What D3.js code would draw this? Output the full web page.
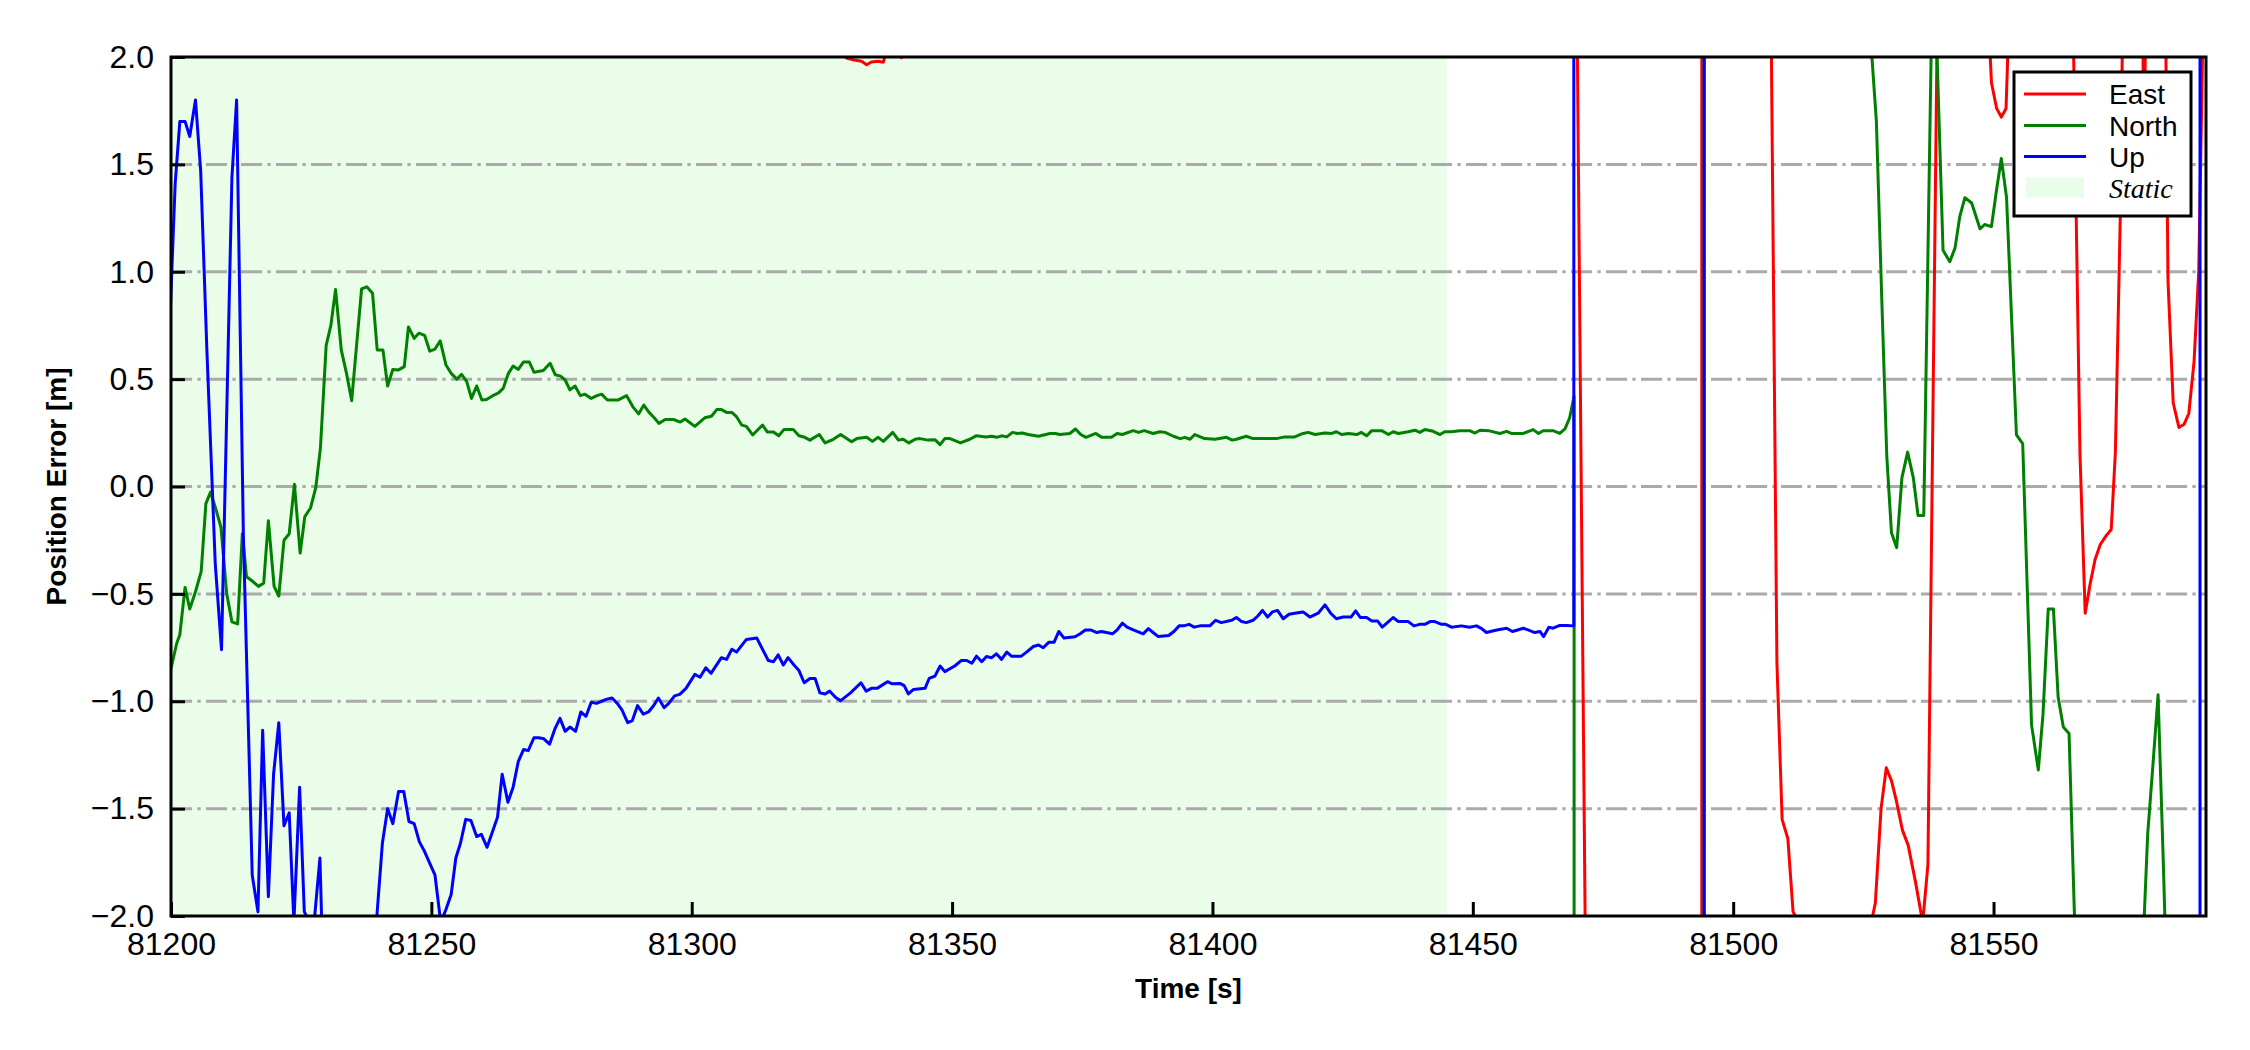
<!DOCTYPE html>
<html><head><meta charset="utf-8">
<script src="https://cdn.jsdelivr.net/npm/d3@7"></script>
<style>body{margin:0;background:#fff} svg{display:block}</style>
</head><body>
<svg id="chart" width="2250" height="1050"></svg>
<script>
// ---------------- data ----------------
const xTicks = [81200, 81250, 81300, 81350, 81400, 81450, 81500, 81550];
const yTicks = [-2, -1.5, -1, -0.5, 0, 0.5, 1, 1.5, 2];
const gridValues = [-1.5, -1, -0.5, 0, 0.5, 1, 1.5];
const xDomain = [81200, 81590.8];
const yDomain = [-2, 2];
const staticSpan = [81200, 81445];
const legendLabels = ["East", "North", "Up", "Static"];

// East error [time, value] (values beyond ±2 are off-chart)
const eastPts = [
[81199.7,3.4],[81230,2.9],[81270,2.6],[81300,2.35],[81320,2.15],[81328.7,2.06],
[81329.7,1.995],[81331.0,1.987],[81332.6,1.98],[81333.6,1.964],[81334.5,1.977],[81335.8,1.98],
[81336.8,1.976],[81337.6,2.05],[81339.3,2.04],[81340.3,1.997],[81341.3,2.04],[81360,2.2],
[81400,2.5],[81440,2.9],[81469.5,3.6],[81471.6,-2.1],[81472.6,-40],[81493.9,-300],
[81494.05,300],[81506.3,4.8],[81508.4,-0.82],[81509.4,-1.55],[81510.5,-1.64],[81511.5,-1.98],
[81512.6,-2.03],[81513.6,-3.0],[81520,-4.5],[81525.3,-3.6],[81525.9,-2.1],[81527.3,-1.94],
[81528.4,-1.50],[81529.4,-1.31],[81530.4,-1.37],[81531.4,-1.47],[81532.5,-1.60],[81533.6,-1.67],
[81535.0,-1.84],[81536.4,-2.03],[81537.4,-1.76],[81539.3,2.4],[81544,4.2],[81548.6,2.4],
[81549.6,1.88],[81550.6,1.76],[81551.5,1.72],[81552.4,1.76],[81553.4,2.5],[81559,4.5],
[81564.6,3.2],[81566.6,0.15],[81567.6,-0.59],[81568.5,-0.46],[81569.5,-0.34],[81570.5,-0.27],
[81571.6,-0.23],[81572.6,-0.20],[81573.4,0.16],[81574.4,1.33],[81575.4,3.5],[81577.9,4.5],
[81578.9,1.4],[81579.9,4.0],[81582.5,3.6],[81583.5,0.96],[81584.5,0.39],[81585.6,0.275],
[81586.6,0.29],[81587.5,0.34],[81588.5,0.58],[81589.4,1.0],[81590.5,2.5],[81591.5,4.0]
];

// North error
const northPts = [
[81199.7,-0.88],[81201.1,-0.73],[81201.7,-0.69],[81202.7,-0.47],[81203.6,-0.57],[81204.7,-0.49],
[81205.8,-0.395],[81206.7,-0.08],[81207.6,-0.026],[81208.5,-0.096],[81209.6,-0.19],[81210.7,-0.50],
[81211.7,-0.63],[81212.8,-0.64],[81213.7,-0.22],[81214.5,-0.42],[81215.6,-0.44],[81216.8,-0.465],
[81217.8,-0.45],[81218.7,-0.16],[81219.8,-0.465],[81220.7,-0.51],[81221.7,-0.25],[81222.7,-0.22],
[81223.7,0.01],[81224.8,-0.31],[81225.7,-0.14],[81226.8,-0.10],[81227.8,-0.005],[81228.7,0.18],
[81229.8,0.657],[81230.7,0.75],[81231.6,0.917],[81232.7,0.636],[81233.7,0.527],[81234.7,0.40],
[81236.6,0.92],[81237.6,0.93],[81238.7,0.90],[81239.6,0.636],[81240.7,0.636],[81241.6,0.468],
[81242.6,0.545],[81243.7,0.543],[81244.8,0.558],[81245.6,0.743],[81246.7,0.69],[81247.6,0.714],
[81248.7,0.704],[81249.7,0.63],[81250.7,0.64],[81251.7,0.678],[81252.8,0.566],[81253.8,0.527],
[81254.9,0.50],[81255.8,0.522],[81256.8,0.488],[81257.7,0.41],[81258.7,0.468],[81259.7,0.403],
[81260.6,0.405],[81261.8,0.423],[81262.9,0.436],[81263.8,0.457],[81264.8,0.527],[81265.7,0.561],
[81266.7,0.545],[81267.7,0.58],[81268.8,0.58],[81269.7,0.532],[81271.5,0.54],[81272.8,0.574],
[81273.8,0.52],[81274.8,0.514],[81275.7,0.496],[81276.6,0.45],[81277.6,0.468],[81278.6,0.423],
[81279.5,0.43],[81280.7,0.41],[81281.8,0.423],[81282.7,0.43],[81283.8,0.403],[81285.9,0.403],
[81287.5,0.423],[81288.7,0.371],[81289.8,0.338],[81290.8,0.379],[81291.8,0.345],[81292.8,0.32],
[81293.7,0.294],[81294.9,0.312],[81296.5,0.312],[81297.8,0.30],[81298.7,0.314],[81300.6,0.28],
[81302.5,0.32],[81303.8,0.327],[81304.8,0.358],[81305.7,0.358],[81306.7,0.345],[81307.7,0.345],
[81308.6,0.325],[81309.6,0.286],[81310.5,0.28],[81311.7,0.24],[81312.6,0.262],[81313.6,0.286],
[81314.5,0.254],[81315.7,0.254],[81316.7,0.236],[81317.7,0.265],[81319.5,0.265],[81320.6,0.236],
[81321.7,0.229],[81322.7,0.216],[81324.5,0.242],[81325.6,0.203],[81327.2,0.22],[81328.6,0.242],
[81330.7,0.208],[81331.7,0.223],[81333.6,0.229],[81334.7,0.21],[81335.8,0.229],[81336.8,0.21],
[81338.6,0.252],[81339.7,0.216],[81340.6,0.22],[81341.7,0.203],[81342.9,0.22],[81343.8,0.223],
[81345.4,0.216],[81346.7,0.218],[81347.7,0.195],[81348.6,0.223],[81349.6,0.223],[81351.6,0.203],
[81353.4,0.22],[81354.6,0.236],[81356.5,0.231],[81357.6,0.234],[81358.6,0.229],[81359.5,0.236],
[81360.5,0.231],[81361.6,0.252],[81362.5,0.247],[81363.5,0.249],[81364.6,0.242],[81366.6,0.234],
[81368.8,0.247],[81369.8,0.247],[81370.7,0.242],[81372.6,0.247],[81373.7,0.268],[81374.7,0.242],
[81375.7,0.229],[81377.6,0.247],[81378.7,0.229],[81380.6,0.229],[81381.7,0.247],[81382.7,0.242],
[81384.8,0.26],[81385.8,0.252],[81386.9,0.26],[81388.6,0.247],[81389.9,0.255],[81390.9,0.252],
[81392.5,0.234],[81393.8,0.223],[81394.7,0.229],[81395.7,0.22],[81396.6,0.242],[81398.5,0.223],
[81400.5,0.22],[81402.7,0.229],[81403.8,0.216],[81404.6,0.22],[81406.5,0.234],[81407.8,0.223],
[81410.1,0.223],[81412.3,0.223],[81413.9,0.231],[81415.8,0.231],[81417.4,0.247],[81418.4,0.252],
[81419.7,0.242],[81421.6,0.249],[81422.9,0.247],[81423.8,0.255],[81424.8,0.242],[81426.1,0.247],
[81427.7,0.242],[81428.6,0.252],[81429.6,0.236],[81430.6,0.26],[81432.5,0.26],[81433.8,0.242],
[81434.7,0.255],[81435.7,0.247],[81437.6,0.255],[81438.9,0.262],[81439.8,0.252],[81440.8,0.265],
[81442.4,0.257],[81443.7,0.242],[81444.6,0.255],[81445.9,0.255],[81447.5,0.26],[81449.4,0.26],
[81450.4,0.249],[81451.4,0.262],[81453.0,0.26],[81455.2,0.247],[81456.5,0.257],[81457.4,0.247],
[81459.7,0.247],[81461.6,0.265],[81462.6,0.247],[81463.5,0.26],[81465.4,0.26],[81466.7,0.247],
[81467.7,0.268],[81468.6,0.32],[81469.45,0.42],[81469.8,-300],[81494.4,-300],[81494.45,300],
[81525.5,4.0],[81526.5,2.05],[81527.5,1.70],[81528.5,0.9],[81529.5,0.14],[81530.4,-0.215],
[81531.4,-0.285],[81532.4,0.04],[81533.5,0.16],[81534.6,0.04],[81535.5,-0.135],[81536.6,-0.135],
[81538.4,2.6],[81540.3,1.10],[81541.6,1.047],[81542.6,1.11],[81543.5,1.255],[81544.5,1.345],
[81545.8,1.32],[81547.4,1.20],[81548.3,1.22],[81549.6,1.21],[81550.6,1.385],[81551.5,1.527],
[81552.5,1.345],[81554.4,0.24],[81555.6,0.20],[81557.3,-1.11],[81558.6,-1.32],[81559.5,-1.06],
[81560.5,-0.57],[81561.5,-0.57],[81562.4,-0.98],[81563.4,-1.12],[81564.5,-1.15],[81565.6,-2.05],
[81566.6,-3.5],[81572,-5.0],[81577.6,-3.2],[81578.6,-2.2],[81579.6,-1.62],[81580.6,-1.3],
[81581.6,-0.97],[81582.6,-1.75],[81583.6,-2.6],[81591.5,-4.0]
];

// Up error
const upPts = [
[81199.8,0.78],[81200.8,1.41],[81201.7,1.70],[81202.7,1.70],[81203.6,1.63],[81204.7,1.80],
[81205.7,1.47],[81206.9,0.63],[81208.5,-0.36],[81209.7,-0.76],[81211.7,1.44],[81212.6,1.80],
[81213.9,-0.23],[81215.6,-1.81],[81216.7,-1.98],[81217.6,-1.135],[81218.7,-1.91],[81219.7,-1.34],
[81220.7,-1.10],[81221.7,-1.58],[81222.7,-1.52],[81223.6,-2.03],[81224.7,-1.40],[81225.6,-1.98],
[81226.6,-2.03],[81227.6,-2.0],[81228.6,-1.73],[81229.6,-2.6],[81234,-2.9],[81238.6,-2.3],
[81240.6,-1.66],[81241.6,-1.50],[81242.6,-1.57],[81243.7,-1.42],[81244.7,-1.42],[81245.7,-1.56],
[81246.7,-1.57],[81247.7,-1.655],[81248.7,-1.70],[81249.7,-1.755],[81250.7,-1.81],[81251.8,-2.03],
[81252.8,-1.97],[81253.8,-1.90],[81254.7,-1.73],[81255.6,-1.66],[81256.6,-1.55],[81257.6,-1.555],
[81258.7,-1.63],[81259.6,-1.62],[81260.7,-1.68],[81261.7,-1.61],[81262.7,-1.54],[81263.6,-1.34],
[81264.7,-1.47],[81265.7,-1.40],[81266.7,-1.28],[81267.7,-1.225],[81268.6,-1.23],[81269.7,-1.17],
[81270.6,-1.17],[81271.6,-1.175],[81272.7,-1.20],[81273.7,-1.13],[81274.7,-1.08],[81275.7,-1.14],
[81276.6,-1.12],[81277.7,-1.14],[81278.7,-1.05],[81279.7,-1.07],[81280.7,-1.005],[81281.7,-1.01],
[81282.7,-1.00],[81283.7,-0.99],[81284.7,-0.985],[81285.7,-1.01],[81286.6,-1.04],[81287.7,-1.10],
[81288.6,-1.09],[81289.6,-1.02],[81290.7,-1.06],[81291.7,-1.05],[81292.7,-1.02],[81293.6,-0.985],
[81294.7,-1.03],[81295.6,-1.01],[81296.7,-0.975],[81297.7,-0.968],[81298.9,-0.94],[81300.6,-0.875],
[81301.6,-0.888],[81302.7,-0.844],[81303.7,-0.87],[81305.7,-0.797],[81306.7,-0.805],[81307.7,-0.758],
[81308.6,-0.771],[81310.5,-0.712],[81312.5,-0.706],[81314.7,-0.81],[81315.7,-0.816],[81316.6,-0.784],
[81317.6,-0.831],[81318.5,-0.797],[81319.8,-0.836],[81320.6,-0.857],[81321.6,-0.914],[81322.7,-0.894],
[81323.7,-0.894],[81324.6,-0.961],[81325.6,-0.966],[81326.5,-0.953],[81327.7,-0.984],[81328.6,-0.997],
[81330.5,-0.961],[81332.5,-0.914],[81333.5,-0.953],[81334.5,-0.94],[81335.6,-0.94],[81337.6,-0.909],
[81338.5,-0.919],[81340.0,-0.917],[81340.8,-0.927],[81341.6,-0.966],[81342.6,-0.945],[81344.8,-0.94],
[81345.6,-0.894],[81346.7,-0.883],[81347.7,-0.836],[81348.6,-0.862],[81350.5,-0.836],[81351.8,-0.81],
[81352.8,-0.81],[81353.8,-0.823],[81354.7,-0.79],[81355.7,-0.816],[81356.6,-0.792],[81357.6,-0.797],
[81358.5,-0.779],[81359.5,-0.805],[81360.5,-0.771],[81361.4,-0.79],[81363.3,-0.79],[81364.3,-0.771],
[81365.6,-0.745],[81366.6,-0.738],[81367.5,-0.751],[81368.6,-0.725],[81369.6,-0.725],[81370.5,-0.675],
[81371.5,-0.706],[81373.6,-0.70],[81374.6,-0.686],[81375.6,-0.668],[81376.6,-0.668],[81377.8,-0.68],
[81378.7,-0.675],[81380.8,-0.686],[81381.7,-0.668],[81382.7,-0.636],[81383.6,-0.655],[81384.8,-0.668],
[81386.7,-0.686],[81387.7,-0.662],[81388.6,-0.68],[81389.6,-0.699],[81391.6,-0.694],[81392.6,-0.675],
[81393.6,-0.649],[81394.5,-0.649],[81395.5,-0.642],[81396.5,-0.655],[81397.6,-0.649],[81399.5,-0.649],
[81400.6,-0.623],[81401.7,-0.634],[81403.7,-0.623],[81404.6,-0.61],[81405.6,-0.629],[81406.5,-0.634],
[81407.8,-0.623],[81408.7,-0.603],[81409.6,-0.577],[81410.6,-0.608],[81411.5,-0.584],[81412.5,-0.577],
[81413.6,-0.616],[81414.7,-0.595],[81415.8,-0.59],[81417.4,-0.584],[81418.7,-0.608],[81420.3,-0.59],
[81421.6,-0.551],[81422.7,-0.59],[81423.8,-0.616],[81425.1,-0.608],[81426.6,-0.608],[81427.5,-0.579],
[81428.4,-0.61],[81429.6,-0.61],[81430.6,-0.626],[81431.7,-0.626],[81432.6,-0.655],[81433.6,-0.634],
[81434.7,-0.61],[81435.7,-0.629],[81437.6,-0.629],[81438.7,-0.649],[81439.8,-0.642],[81440.8,-0.642],
[81441.8,-0.629],[81442.7,-0.629],[81444.0,-0.642],[81444.8,-0.642],[81445.9,-0.655],[81447.8,-0.649],
[81449.4,-0.655],[81450.7,-0.649],[81451.7,-0.662],[81452.6,-0.68],[81454.6,-0.668],[81456.5,-0.66],
[81457.6,-0.675],[81458.6,-0.668],[81459.7,-0.66],[81460.6,-0.668],[81461.9,-0.68],[81462.9,-0.675],
[81463.6,-0.699],[81464.6,-0.655],[81465.4,-0.66],[81466.7,-0.647],[81468.0,-0.647],[81469.4,-0.649],
[81469.5,300],[81494.4,300],[81494.45,-300],[81589.6,-300],[81589.7,300],[81591.5,300]
];

const seriesColors = ["#ff0000", "#008000", "#0000ff"];
const staticColor = "#e9fde9";

// ---------------- chart ----------------
const W = 2250, H = 1050;
const plot = {left: 171, top: 57, right: 2206, bottom: 916};
const svg = d3.select("#chart");
const x = d3.scaleLinear().domain(xDomain).range([plot.left, plot.right]);
const y = d3.scaleLinear().domain(yDomain).range([plot.bottom, plot.top]);

svg.append("rect").attr("width", W).attr("height", H).attr("fill", "#fff");

svg.append("defs").append("clipPath").attr("id", "plotclip")
  .append("rect").attr("x", plot.left).attr("y", plot.top)
  .attr("width", plot.right - plot.left).attr("height", plot.bottom - plot.top);

const inner = svg.append("g").attr("clip-path", "url(#plotclip)");

// static span
inner.append("rect")
  .attr("x", x(staticSpan[0])).attr("y", plot.top)
  .attr("width", x(staticSpan[1]) - x(staticSpan[0]))
  .attr("height", plot.bottom - plot.top)
  .attr("fill", staticColor);

// grid
inner.selectAll("line.grid").data(gridValues).enter().append("line")
  .attr("class", "grid")
  .attr("x1", plot.left).attr("x2", plot.right)
  .attr("y1", d => y(d)).attr("y2", d => y(d))
  .attr("stroke", "#aaaaaa").attr("stroke-width", 3)
  .attr("stroke-dasharray", "21.1,5.3,3.3,5.3");

// lines
const line = d3.line().x(d => x(d[0])).y(d => y(d[1]));
[eastPts, northPts, upPts].forEach((pts, i) => {
  inner.append("path").datum(pts)
    .attr("d", line)
    .attr("fill", "none")
    .attr("stroke", seriesColors[i])
    .attr("stroke-width", 3)
    .attr("stroke-linejoin", "round");
});

const tickFont = "'Liberation Sans', Arial, sans-serif";

// axes
const fmtY = d3.format(".1f");
const gy = svg.append("g").attr("transform", `translate(${plot.left},0)`)
  .call(d3.axisLeft(y).tickValues(yTicks).tickSizeInner(-14).tickSizeOuter(0)
    .tickPadding(17).tickFormat(d => fmtY(d)));
const gx = svg.append("g").attr("transform", `translate(0,${plot.bottom})`)
  .call(d3.axisBottom(x).tickValues(xTicks).tickSizeInner(-14).tickSizeOuter(0)
    .tickPadding(16).tickFormat(d3.format("d")));
[gx, gy].forEach(g => {
  g.select(".domain").remove();
  g.selectAll(".tick line").attr("stroke", "#000").attr("stroke-width", 3);
  g.selectAll(".tick text").attr("fill", "#000")
    .style("font-family", tickFont).style("font-size", "32px");
});

// spines
svg.append("rect")
  .attr("x", plot.left).attr("y", plot.top)
  .attr("width", plot.right - plot.left).attr("height", plot.bottom - plot.top)
  .attr("fill", "none").attr("stroke", "#000").attr("stroke-width", 3);

// axis labels
svg.append("text")
  .attr("x", (plot.left + plot.right) / 2).attr("y", 998)
  .attr("text-anchor", "middle")
  .style("font-family", tickFont).style("font-size", "28px").style("font-weight", "bold")
  .text("Time [s]");
svg.append("text")
  .attr("transform", `translate(66,${(plot.top + plot.bottom) / 2}) rotate(-90)`)
  .attr("text-anchor", "middle")
  .style("font-family", tickFont).style("font-size", "28px").style("font-weight", "bold")
  .text("Position Error [m]");

// legend
const lg = svg.append("g");
lg.append("rect").attr("x", 2014).attr("y", 72).attr("width", 177).attr("height", 144)
  .attr("fill", "#fff").attr("stroke", "#000").attr("stroke-width", 3);
const rowY = [94, 125.5, 156.5, 187.5];
legendLabels.forEach((lab, i) => {
  if (i < 3) {
    lg.append("line").attr("x1", 2024).attr("x2", 2086)
      .attr("y1", rowY[i]).attr("y2", rowY[i])
      .attr("stroke", seriesColors[i]).attr("stroke-width", 3);
  } else {
    lg.append("rect").attr("x", 2026).attr("y", rowY[i] - 10)
      .attr("width", 58).attr("height", 20).attr("fill", staticColor);
  }
  lg.append("text").attr("x", 2109).attr("y", rowY[i] + 10)
    .style("font-family", i < 3 ? tickFont : "'Liberation Serif', 'Times New Roman', serif")
    .style("font-style", i < 3 ? "normal" : "italic")
    .style("font-size", "28px")
    .text(lab);
});
</script>
</body></html>
